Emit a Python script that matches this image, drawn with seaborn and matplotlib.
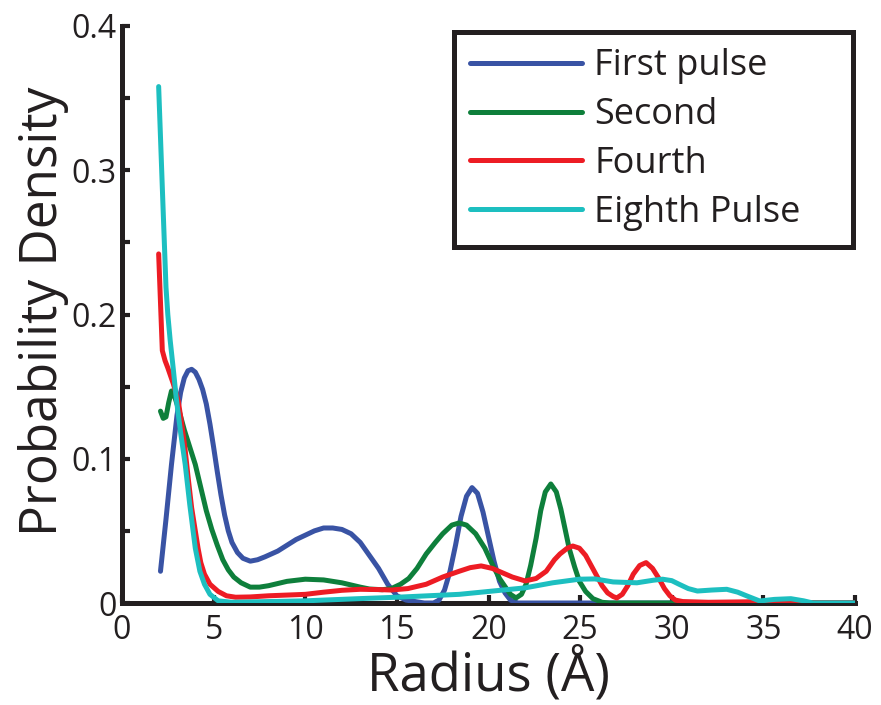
import matplotlib
matplotlib.use("Agg")
import matplotlib.pyplot as plt
import seaborn as sns
import pandas as pd
from matplotlib.ticker import MultipleLocator

# ---- data ----
first_x = [2.1, 2.4, 2.7, 3.0, 3.2, 3.4, 3.6, 3.8, 4.0, 4.2, 4.4, 4.6, 4.8, 5.0, 5.2, 5.4, 5.6, 5.8, 6.0, 6.3,
           6.6, 7.0, 7.4, 7.8, 8.5, 9.0, 9.5, 10.0, 10.5, 11.0, 11.5, 12.0, 12.5, 13.0, 13.5, 14.0, 14.5, 15.0, 15.5, 16.0,
           16.5, 17.0, 17.3, 17.6, 17.9, 18.2, 18.5, 18.8, 19.1, 19.4, 19.7, 20.0, 20.3, 20.6, 20.9, 21.2, 21.6, 25.0, 30.0, 40.0]
first_y = [0.022, 0.058, 0.096, 0.130, 0.146, 0.156, 0.161, 0.162, 0.160, 0.155, 0.148, 0.138, 0.124, 0.108, 0.091, 0.075, 0.061, 0.050, 0.042, 0.035,
           0.031, 0.029, 0.030, 0.032, 0.036, 0.040, 0.044, 0.047, 0.050, 0.052, 0.052, 0.051, 0.048, 0.042, 0.033, 0.024, 0.013, 0.005, 0.002, 0.001,
           0.0, 0.0, 0.002, 0.009, 0.022, 0.040, 0.060, 0.074, 0.080, 0.076, 0.063, 0.046, 0.029, 0.015, 0.007, 0.002, 0.0, 0.0, 0.0, 0.0]

second_x = [2.1, 2.25, 2.4, 2.55, 2.7, 2.9, 3.1, 3.4, 3.7, 4.0, 4.3, 4.6, 4.9, 5.2, 5.5, 5.8, 6.1, 6.5, 7.0, 7.5,
            8.0, 9.0, 10.0, 11.0, 12.0, 13.0, 13.5, 14.2, 14.7, 15.2, 15.65, 16.1, 16.6, 17.1, 17.5, 18.0, 18.4, 18.8, 19.3, 19.8,
            20.2, 20.6, 20.95, 21.2, 21.5, 21.8, 22.05, 22.3, 22.6, 22.85, 23.1, 23.4, 23.7, 23.95, 24.2, 24.4, 24.7, 24.96, 25.3, 25.7,
            26.2, 26.6, 30.0, 40.0]
second_y = [0.133, 0.128, 0.129, 0.139, 0.147, 0.142, 0.134, 0.120, 0.108, 0.096, 0.080, 0.064, 0.051, 0.040, 0.030, 0.023, 0.018, 0.014, 0.011, 0.011,
            0.012, 0.015, 0.0165, 0.016, 0.014, 0.011, 0.0097, 0.0092, 0.010, 0.013, 0.017, 0.024, 0.034, 0.042, 0.048, 0.054, 0.0555, 0.054, 0.048, 0.038,
            0.027, 0.017, 0.0105, 0.006, 0.0035, 0.006, 0.013, 0.026, 0.045, 0.064, 0.077, 0.0825, 0.077, 0.065, 0.050, 0.038, 0.025, 0.015, 0.008, 0.003,
            0.0005, 0.0, 0.0, 0.0]

fourth_x = [2.0, 2.2, 2.35, 2.5, 2.8, 3.07, 3.25, 3.43, 3.6, 3.8, 4.0, 4.15, 4.3, 4.5, 4.8, 5.25, 5.7, 6.2, 7.0, 8.0,
            9.0, 10.0, 11.0, 12.0, 13.0, 14.0, 14.7, 15.6, 16.6, 17.5, 18.4, 19.0, 19.6, 20.2, 20.75, 21.3, 22.0, 22.6, 23.15, 23.6,
            23.9, 24.3, 24.6, 24.96, 25.3, 25.6, 25.9, 26.2, 26.5, 26.8, 27.0, 27.3, 27.6, 27.9, 28.25, 28.6, 28.95, 29.3, 29.6, 29.9,
            30.2, 30.6, 32.0, 34.0, 35.5, 36.5, 37.2, 37.7, 40.0]
fourth_y = [0.242, 0.175, 0.168, 0.163, 0.152, 0.140, 0.125, 0.108, 0.088, 0.066, 0.050, 0.038, 0.028, 0.020, 0.013, 0.008, 0.005, 0.004, 0.0042, 0.005,
            0.0055, 0.006, 0.0075, 0.0088, 0.0095, 0.0093, 0.009, 0.010, 0.013, 0.018, 0.022, 0.0245, 0.0257, 0.024, 0.021, 0.018, 0.0153, 0.017, 0.022, 0.030,
            0.034, 0.038, 0.0395, 0.038, 0.033, 0.026, 0.019, 0.012, 0.007, 0.0045, 0.0035, 0.006, 0.012, 0.020, 0.026, 0.028, 0.024, 0.017, 0.010, 0.005,
            0.002, 0.001, 0.0005, 0.0008, 0.0012, 0.0015, 0.0005, 0.0, 0.0]

eighth_x = [2.0, 2.2, 2.4, 2.5, 2.63, 2.8, 2.96, 3.2, 3.45, 3.7, 4.0, 4.25, 4.5, 4.8, 5.25, 6.0, 8.0, 10.0, 12.9, 15.0,
            18.4, 20.0, 22.0, 23.5, 24.96, 25.8, 26.8, 28.1, 29.0, 29.5, 30.0, 30.4, 30.9, 31.4, 32.2, 33.0, 33.6, 34.1, 34.8, 35.6,
            36.5, 37.2, 37.7, 40.0]
eighth_y = [0.358, 0.288, 0.219, 0.200, 0.182, 0.162, 0.142, 0.118, 0.096, 0.068, 0.038, 0.022, 0.013, 0.006, 0.0015, 0.0005, 0.001, 0.0015, 0.003, 0.004,
            0.006, 0.008, 0.0105, 0.014, 0.0165, 0.0167, 0.0146, 0.014, 0.0158, 0.0165, 0.0155, 0.013, 0.010, 0.0083, 0.009, 0.0095, 0.0075, 0.0049, 0.0014, 0.0025,
            0.003, 0.0015, 0.0, 0.0]

series_names = ["First pulse", "Second", "Fourth", "Eighth Pulse"]
series_colors = ["#3953A4", "#0E7F3B", "#ED1C24", "#1DBFC0"]

x_ticks = [0, 5, 10, 15, 20, 25, 30, 35, 40]
y_ticks = [0, 0.1, 0.2, 0.3, 0.4]
y_tick_labels = ["0", "0.1", "0.2", "0.3", "0.4"]

frames = []
for name, xs, ys in zip(series_names, [first_x, second_x, fourth_x, eighth_x],
                        [first_y, second_y, fourth_y, eighth_y]):
    frames.append(pd.DataFrame({"Radius": xs, "Density": ys, "Series": name}))
df = pd.concat(frames, ignore_index=True)

sns.set_style("ticks")
plt.rcParams["font.family"] = ["Open Sans", "DejaVu Sans"]

ink = "#231F20"
fig = plt.figure(figsize=(8.81, 7.05), dpi=100)
ax = fig.add_axes([122 / 881, 1 - 603 / 705, 733 / 881, 577 / 705])

sns.lineplot(data=df, x="Radius", y="Density", hue="Series", hue_order=series_names,
             palette=series_colors, linewidth=3.6, sort=False, ax=ax, zorder=3)

ax.set_xlim(0, 40)
ax.set_ylim(0, 0.4)
ax.set_xticks(x_ticks)
ax.set_xticklabels([str(t) for t in x_ticks])
ax.set_yticks(y_ticks)
ax.set_yticklabels(y_tick_labels)
ax.yaxis.set_minor_locator(MultipleLocator(0.05))

for s in ["top", "right"]:
    ax.spines[s].set_visible(False)
for s in ["left", "bottom"]:
    ax.spines[s].set_linewidth(3.6)
    ax.spines[s].set_color(ink)

ax.tick_params(axis="both", which="major", direction="in", length=6, width=3,
               labelsize=23, color=ink, labelcolor=ink)
ax.tick_params(axis="y", which="major", pad=4)
ax.tick_params(axis="x", which="major", pad=8)
ax.tick_params(axis="y", which="minor", direction="in", length=6, width=3, color=ink)

ax.set_xlabel("Radius (Å)", fontsize=38, color=ink)
ax.set_ylabel("Probability Density", fontsize=37, color=ink)
ax.yaxis.set_label_coords(-0.072, 0.505)
ax.xaxis.set_label_coords(0.5, -0.078)

leg = ax.legend(loc="upper left", bbox_to_anchor=(0.453, 0.5, 0.5445, 0.4896), mode="expand",
                borderaxespad=0, fontsize=26, frameon=True, fancybox=False, handlelength=3.1,
                handletextpad=0.33, labelspacing=0.357, borderpad=0.45)
leg.get_frame().set_edgecolor(ink)
leg.get_frame().set_linewidth(3.6)
leg.get_frame().set_facecolor("white")
leg.get_frame().set_alpha(1)
for line in leg.get_lines():
    line.set_linewidth(3.6)
for t in leg.get_texts():
    t.set_color(ink)

fig.savefig("out.png", dpi=100)
